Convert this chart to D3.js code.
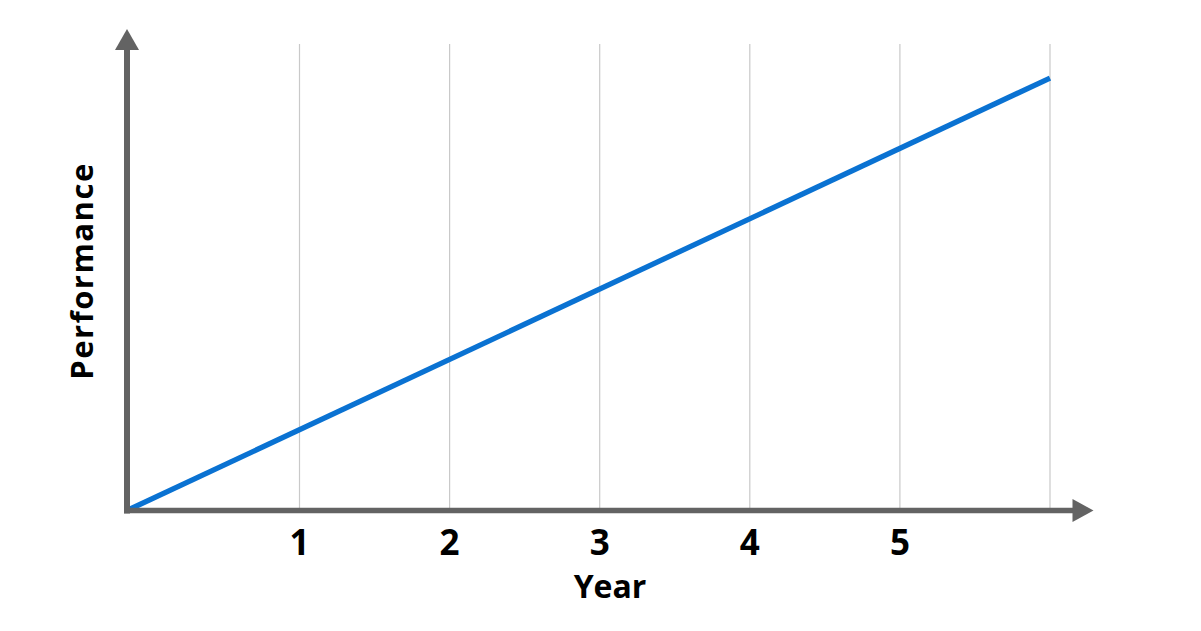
<!DOCTYPE html>
<html>
<head>
<meta charset="utf-8">
<script src="https://cdn.jsdelivr.net/npm/d3@7"></script>
<style>
  html, body { margin: 0; padding: 0; background: #fff; }
  svg { display: block; }
  text { font-family: "Open Sans", sans-serif; font-weight: 700; fill: #000; }
</style>
</head>
<body>
<svg id="chart" width="1201" height="631"></svg>
<script>
// ---- data ----
const tickYears = [1, 2, 3, 4, 5];
const tickLabels = ["1", "2", "3", "4", "5"];
const gridYears = [1, 2, 3, 4, 5, 6];
const lineYears = [-0.149, 6];
const linePerformance = [0, 92.7];
const xTitle = "Year";
const yTitle = "Performance";

// ---- layout ----
const originX = 127, originY = 510.5;
const svg = d3.select("#chart");

const x = d3.scaleLinear().domain([1, 6]).range([299.5, 1050]);
const y = d3.scaleLinear().domain([0, 100]).range([originY, 44]);

const axisColor = "#636363";

// gridlines
svg.append("g").selectAll("line").data(gridYears).join("line")
  .attr("x1", d => x(d)).attr("x2", d => x(d))
  .attr("y1", y(100)).attr("y2", originY)
  .attr("stroke", "#c9c9c9").attr("stroke-width", 1.2);

// performance line
const pts = lineYears.map((d, i) => [d, linePerformance[i]]);
svg.append("path")
  .datum(pts)
  .attr("d", d3.line().x(d => x(d[0])).y(d => y(d[1])))
  .attr("fill", "none")
  .attr("stroke", "#0a72d2")
  .attr("stroke-width", 5.3);

// axes
svg.append("line").attr("x1", originX).attr("x2", originX)
  .attr("y1", 48).attr("y2", originY + 3)
  .attr("stroke", axisColor).attr("stroke-width", 6);
svg.append("line").attr("x1", originX - 3).attr("x2", 1075)
  .attr("y1", originY).attr("y2", originY)
  .attr("stroke", axisColor).attr("stroke-width", 5.5);
// arrows
svg.append("path")
  .attr("d", `M${originX},29 L${originX + 12},50 L${originX - 12},50 Z`)
  .attr("fill", axisColor);
svg.append("path")
  .attr("d", `M1093.5,${originY} L1072.5,${originY - 11.5} L1072.5,${originY + 11.5} Z`)
  .attr("fill", axisColor);

// tick labels
svg.append("g").selectAll("text").data(tickYears).join("text")
  .attr("x", d => x(d)).attr("y", 554.5)
  .attr("text-anchor", "middle")
  .attr("font-size", 35)
  .text((d, i) => tickLabels[i]);

// axis titles
svg.append("text")
  .attr("x", 610).attr("y", 597.5)
  .attr("text-anchor", "middle")
  .attr("font-size", 32)
  .text(xTitle);

svg.append("text")
  .attr("transform", "translate(93,271) rotate(-90)")
  .attr("text-anchor", "middle")
  .attr("font-size", 31)
  .attr("letter-spacing", 1.5)
  .text(yTitle);
</script>
</body>
</html>
